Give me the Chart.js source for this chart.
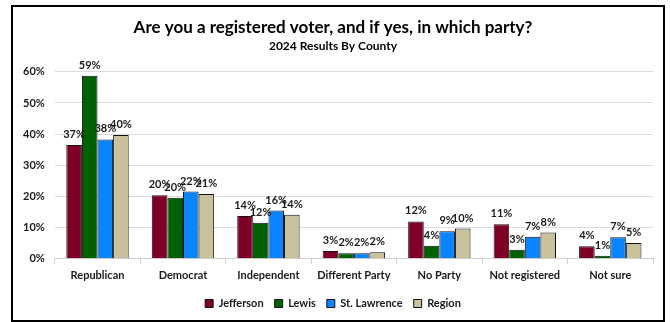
<!DOCTYPE html>
<html>
<head>
<meta charset="utf-8">
<script src="https://cdn.jsdelivr.net/npm/chart.js@4.4.1/dist/chart.umd.min.js"></script>
<style>
    body { margin: 0; background: #fff; }
    #frame {
        position: absolute; left: 11px; top: 5px;
        width: 650px; height: 313px;
        border: 2px solid #000;
    }
</style>
</head>
<body>
<div id="frame"><canvas id="voterChart"></canvas></div>
<script>
// Categories and county results (percent)
var categories = ['Republican', 'Democrat', 'Independent', 'Different Party', 'No Party', 'Not registered', 'Not sure'];
var jefferson   = [36.5, 20.4, 13.7, 2.5, 12.0, 11.1, 4.0];
var lewis       = [58.7, 19.6, 11.6, 1.8, 4.2, 2.9, 1.0];
var stLawrence  = [38.3, 21.6, 15.5, 1.8, 8.8, 7.1, 6.9];
var region      = [39.7, 20.8, 14.1, 2.1, 9.7, 8.4, 5.1];
var yTicks = [0, 10, 20, 30, 40, 50, 60];

var FONT = 'Lato, "Open Sans", sans-serif';

// Draw the rounded value above each bar
var valueLabels = {
    id: 'valueLabels',
    afterDatasetsDraw: function(chart) {
        var ctx = chart.ctx;
        ctx.save();
        ctx.font = 'bold 11px ' + FONT;
        ctx.fillStyle = '#1a1a1a';
        ctx.textAlign = 'center';
        ctx.textBaseline = 'bottom';
        chart.data.datasets.forEach(function(ds, i) {
            chart.getDatasetMeta(i).data.forEach(function(bar, j) {
                ctx.fillText(Math.round(ds.data[j]) + '%', bar.x, bar.y - 5);
            });
        });
        ctx.restore();
    }
};

function series(label, data, color) {
    return {
        label: label,
        data: data,
        backgroundColor: color,
        borderColor: '#111',
        borderWidth: 1,
        borderSkipped: 'bottom'
    };
}

new Chart(document.getElementById('voterChart'), {
    type: 'bar',
    data: {
        labels: categories,
        datasets: [
            series('Jefferson', jefferson, '#7f0026'),
            series('Lewis', lewis, '#006100'),
            series('St. Lawrence', stLawrence, '#0a84ff'),
            series('Region', region, '#c9c19c')
        ]
    },
    options: {
        responsive: true,
        maintainAspectRatio: false,
        animation: false,
        layout: { padding: { left: 0, right: 10, top: 0, bottom: 1 } },
        datasets: { bar: { categoryPercentage: 0.73, barPercentage: 1.0 } },
        scales: {
            x: {
                grid: { offset: true, drawOnChartArea: false, drawTicks: true, tickLength: 5, color: '#d0d0d0' },
                border: { color: '#d0d0d0' },
                ticks: { color: '#1a1a1a', font: { family: FONT, size: 11, weight: 'bold' }, padding: 5, maxRotation: 0 }
            },
            y: {
                min: 0, max: 60,
                afterBuildTicks: function(axis) {
                    axis.ticks = yTicks.map(function(v) { return { value: v }; });
                },
                grid: { color: '#dcdcdc', drawTicks: false },
                border: { display: false },
                ticks: {
                    color: '#1a1a1a',
                    font: { family: FONT, size: 11, weight: 'bold' },
                    padding: 10,
                    callback: function(v) { return v + '%'; }
                }
            }
        },
        plugins: {
            title: {
                display: true,
                text: 'Are you a registered voter, and if yes, in which party?',
                color: '#000',
                font: { family: FONT, size: 17, weight: 'bold' },
                padding: { top: 10, bottom: 2 }
            },
            subtitle: {
                display: true,
                text: '2024 Results By County',
                color: '#000',
                font: { family: FONT, size: 12, weight: 'bold' },
                padding: { bottom: 18 }
            },
            legend: {
                position: 'bottom',
                labels: {
                    boxWidth: 8, boxHeight: 8,
                    color: '#1a1a1a',
                    font: { family: FONT, size: 11, weight: 'bold' },
                    padding: 11
                }
            },
            tooltip: { enabled: false }
        }
    },
    plugins: [valueLabels]
});
</script>
</body>
</html>
